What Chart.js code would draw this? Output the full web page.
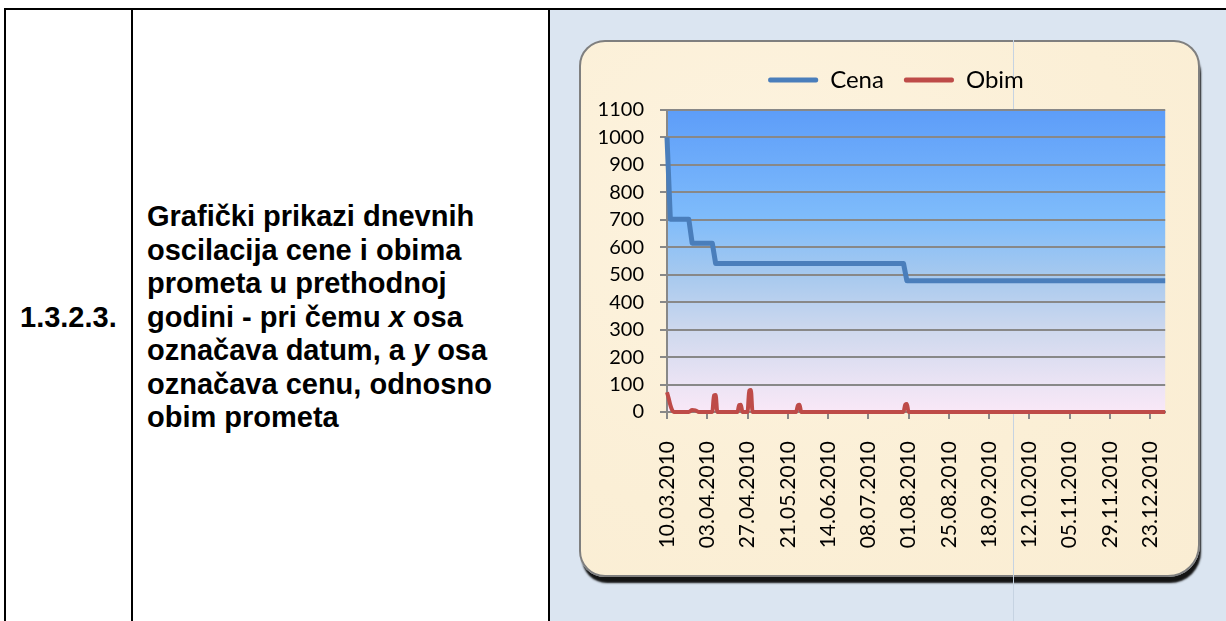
<!DOCTYPE html>
<html>
<head>
<meta charset="utf-8">
<script src="https://cdn.jsdelivr.net/npm/chart.js@4.4.1/dist/chart.umd.min.js"></script>
<style>
body { margin:0; width:1226px; height:621px; overflow:hidden; background:#fff; position:relative; font-family:"Liberation Sans", Arial, sans-serif; }
.bd { position:absolute; background:#000; }
.txt { position:absolute; font-weight:bold; font-size:29px; line-height:33.5px; color:#000; white-space:nowrap; }
#cell { position:absolute; left:550px; top:10px; width:676px; height:611px; background:#dbe5f1; }
#box { position:absolute; left:579px; top:40px; width:621px; height:537px; box-sizing:border-box;
       border:2px solid #7f7f7f; border-radius:26px 26px 32px 26px;
       background: radial-gradient(ellipse at 30% 30%, #fdf3df 0%, #fbefd6 60%, #faedd3 100%);
       box-shadow: 2px 7px 2px -1px #141414; }
#seam { position:absolute; left:1013px; top:40px; width:1px; height:581px; background:#c6d3e2; }
#myChart { position:absolute; left:581px; top:42px; }
</style>
</head>
<body>
<div class="bd" style="left:4px;top:8px;width:1222px;height:2px"></div>
<div class="bd" style="left:4px;top:8px;width:2px;height:613px"></div>
<div class="bd" style="left:131px;top:8px;width:2px;height:613px"></div>
<div id="cell"></div>
<div class="bd" style="left:548px;top:8px;width:2px;height:613px"></div>
<div class="txt" style="left:20px;top:301px">1.3.2.3.</div>
<div class="txt" style="left:147px;top:200px">Grafički prikazi dnevnih<br>oscilacija cene i obima<br>prometa u prethodnoj<br>godini - pri čemu <i>x</i> osa<br>označava datum, a <i>y</i> osa<br>označava cenu, odnosno<br>obim prometa</div>
<div id="box"></div>
<div id="seam"></div>
<canvas id="myChart" width="617" height="533"></canvas>
<script>
// x tick labels, one every 24 days starting 10.03.2010
var dateLabels = ["10.03.2010", "03.04.2010", "27.04.2010", "21.05.2010", "14.06.2010", "08.07.2010",
    "01.08.2010", "25.08.2010", "18.09.2010", "12.10.2010", "05.11.2010", "29.11.2010", "23.12.2010"];
// days counted from 10.03.2010
var cenaDays = [0, 2, 13, 15, 27, 29, 141, 143, 297];
var cenaValues = [1000, 702, 702, 615, 615, 541, 541, 478, 478];
var obimDays = [0, 1, 2, 3, 4, 13, 15, 17, 19, 27, 28, 29, 30, 42, 43, 44, 45,
    48, 49, 50, 51, 77, 78, 79, 80, 141, 142, 143, 144, 297];
var obimValues = [72, 50, 25, 8, 0, 0, 7, 6, 0, 0, 60, 62, 0, 0, 25, 26, 0,
    0, 78, 80, 0, 0, 24, 26, 0, 0, 27, 29, 0, 0];

function toPoints(days, values) {
    var pts = [];
    for (var i = 0; i < days.length; i++) pts.push({ x: days[i], y: values[i] });
    return pts;
}

var plotBg = {
    id: 'plotBg',
    beforeInit: function(chart) {
        // a bit more room under the legend
        var fit = chart.legend.fit;
        chart.legend.fit = function() {
            fit.bind(chart.legend)();
            this.height += 8;
        };
        // legend sits more to the right in the original
        var draw = chart.legend.draw;
        chart.legend.draw = function() {
            this.left += 18;
            this.right += 18;
            draw.apply(this, arguments);
            this.left -= 18;
            this.right -= 18;
        };
    },
    beforeDraw: function(chart) {
        var a = chart.chartArea, c = chart.ctx;
        var g = c.createLinearGradient(0, a.top, 0, a.bottom);
        g.addColorStop(0, '#5d9df9');
        g.addColorStop(0.36, '#7fbcfb');
        g.addColorStop(0.55, '#a7c9ee');
        g.addColorStop(0.74, '#d0d9ee');
        g.addColorStop(0.9, '#eae3f4');
        g.addColorStop(1, '#f9e8f7');
        c.save();
        c.fillStyle = g;
        c.fillRect(a.left, a.top, a.right - a.left, a.bottom - a.top);
        c.restore();
    }
};

function init_chart() {
    const ctx = document.getElementById('myChart');
    new Chart(ctx, {
        type: 'line',
        data: {
            datasets: [{
                label: 'Cena',
                data: toPoints(cenaDays, cenaValues),
                borderColor: '#4a7ebb',
                backgroundColor: '#4a7ebb',
                borderWidth: 5,
                pointRadius: 0,
                borderJoinStyle: 'round',
                tension: 0,
                clip: false
            }, {
                label: 'Obim',
                data: toPoints(obimDays, obimValues),
                borderColor: '#be4b48',
                backgroundColor: '#be4b48',
                borderWidth: 4,
                pointRadius: 0,
                cubicInterpolationMode: 'monotone',
                clip: false
            }]
        },
        options: {
            responsive: false,
            animation: false,
            layout: { padding: { top: 6, right: 23, left: 0, bottom: 0 } },
            plugins: {
                tooltip: { enabled: false },
                legend: {
                    labels: {
                        color: '#000',
                        font: { family: 'Lato', size: 24 },
                        boxWidth: 50,
                        boxHeight: 5,
                        padding: 20,
                        useBorderRadius: true,
                        borderRadius: 2,
                        generateLabels: function(chart) {
                            var items = Chart.defaults.plugins.legend.labels.generateLabels(chart);
                            items.forEach(function(it) { it.lineWidth = 0; });
                            return items;
                        }
                    }
                }
            },
            scales: {
                x: {
                    type: 'linear',
                    min: 0,
                    max: 297,
                    afterFit: function(s) { s.height = 163; },
                    ticks: {
                        stepSize: 24,
                        includeBounds: false,
                        autoSkip: false,
                        minRotation: 90,
                        maxRotation: 90,
                        padding: 22,
                        color: '#000',
                        font: { family: 'Lato', size: 21 },
                        callback: function(v) { return dateLabels[v / 24]; }
                    },
                    grid: { drawOnChartArea: false, drawTicks: true, tickLength: 7, color: '#888', lineWidth: 2 },
                    border: { color: '#888', width: 2 }
                },
                y: {
                    min: 0,
                    max: 1100,
                    afterFit: function(s) { s.width = 86; },
                    ticks: {
                        stepSize: 100,
                        padding: 16,
                        color: '#000',
                        font: { family: 'Lato', size: 20 },
                        callback: function(v) { return String(v); }
                    },
                    grid: { color: '#888', lineWidth: 2, tickLength: 7 },
                    border: { color: '#888', width: 2 }
                }
            }
        },
        plugins: [plotBg]
    });
}
init_chart()
</script>
</body>
</html>
